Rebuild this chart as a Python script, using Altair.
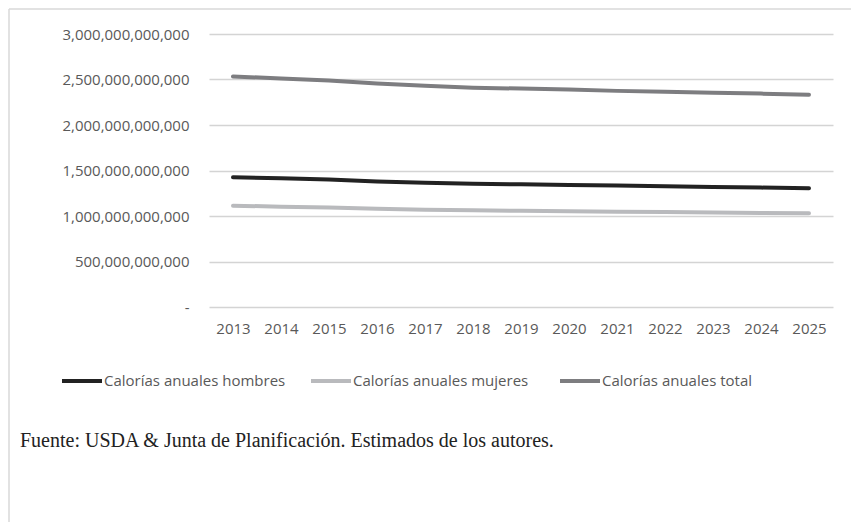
import altair as alt
import pandas as pd

years = [str(y) for y in range(2013, 2026)]
hombres = [1.426e12, 1.415e12, 1.400e12, 1.380e12, 1.365e12, 1.355e12, 1.348e12,
           1.342e12, 1.335e12, 1.328e12, 1.320e12, 1.312e12, 1.305e12]
mujeres = [1.113e12, 1.103e12, 1.093e12, 1.080e12, 1.068e12, 1.062e12, 1.057e12,
           1.052e12, 1.048e12, 1.043e12, 1.039e12, 1.034e12, 1.030e12]
total = [2.534e12, 2.510e12, 2.490e12, 2.455e12, 2.430e12, 2.410e12, 2.400e12,
         2.390e12, 2.375e12, 2.365e12, 2.355e12, 2.345e12, 2.333e12]
series_names = ["Calorías anuales hombres", "Calorías anuales mujeres", "Calorías anuales total"]
series_colors = ["#222222", "#b9babd", "#7d7d80"]
source_text = "Fuente: USDA & Junta de Planificación. Estimados de los autores."

rows = []
for name, vals in zip(series_names, [hombres, mujeres, total]):
    for y, v in zip(years, vals):
        rows.append({"year": y, "value": v, "serie": name})
df = pd.DataFrame(rows)

FONT = "Open Sans"

lines = alt.Chart(df).mark_line(strokeWidth=4, strokeCap="round").encode(
    x=alt.X("year:O", sort=years, title=None,
            scale=alt.Scale(type="point", padding=0.5),
            axis=alt.Axis(labelAngle=0, ticks=False, domain=False, grid=False,
                          labelFont=FONT, labelFontSize=15, labelColor="#595959",
                          labelPadding=14)),
    y=alt.Y("value:Q", title=None,
            scale=alt.Scale(domain=[0, 3e12], nice=False),
            axis=alt.Axis(values=[0, 5e11, 1e12, 1.5e12, 2e12, 2.5e12, 3e12],
                          labelExpr="datum.value == 0 ? '-' : format(datum.value, ',.0f')",
                          ticks=False, domain=False, grid=True,
                          gridColor="#d4d4d4", gridWidth=1.6,
                          labelFont=FONT, labelFontSize=15, labelColor="#595959",
                          labelPadding=20)),
    color=alt.Color("serie:N", sort=series_names,
                    scale=alt.Scale(domain=series_names, range=series_colors),
                    legend=alt.Legend(title=None, orient="none", legendX=-149, legendY=325,
                                      direction="horizontal", columns=3,
                                      symbolType="stroke", symbolSize=1600,
                                      symbolStrokeWidth=4, labelOffset=0,
                                      labelLimit=400,
                                      gridAlign="all", columnPadding=17,
                                      labelFont=FONT, labelFontSize=15,
                                      labelColor="#595959")),
)

frame_left = alt.Chart(pd.DataFrame({"k": [0]})).mark_rule(color="#d9d9d9", strokeWidth=1.5).encode(
    x=alt.value(-200), y=alt.value(-25), y2=alt.value(490)
)
frame_top = alt.Chart(pd.DataFrame({"k": [0]})).mark_rule(color="#d9d9d9", strokeWidth=1.5).encode(
    x=alt.value(-200), x2=alt.value(650), y=alt.value(-25)
)
source = alt.Chart(pd.DataFrame({"t": [source_text]})).mark_text(
    align="left", baseline="middle", font="Liberation Serif", fontSize=20, color="#222222"
).encode(x=alt.value(-189), y=alt.value(407), text="t:N")

chart = alt.layer(frame_left, frame_top, lines, source).properties(
    width=624, height=273,
    background="white",
    autosize=alt.AutoSizeParams(type="none"),
    padding={"left": 201, "top": 26, "right": 18, "bottom": 215},
).configure_view(stroke=None)

chart.save("out.html", embed_options={"renderer": "svg", "actions": False})
